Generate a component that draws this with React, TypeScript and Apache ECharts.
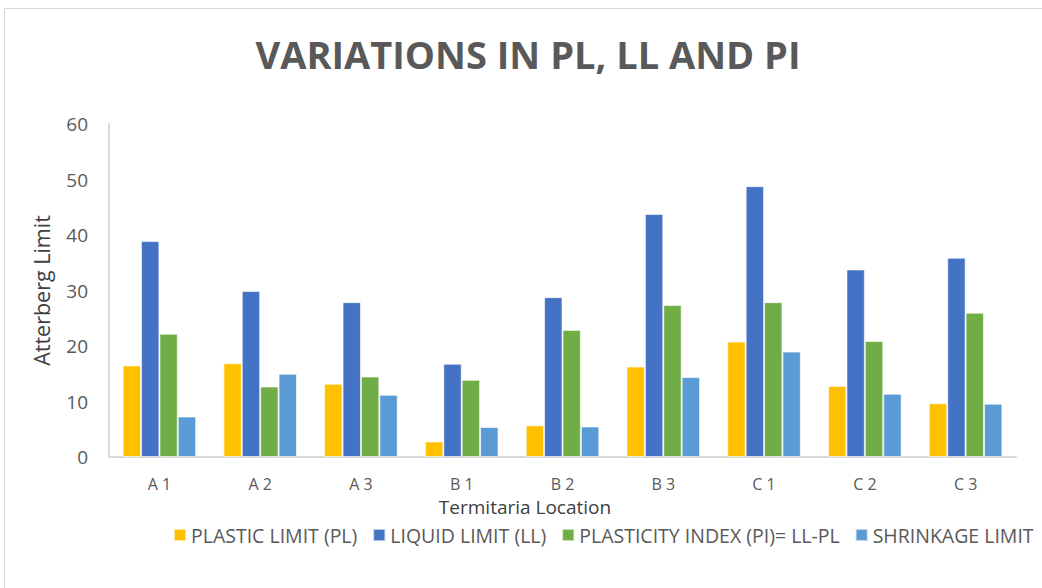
import React, { useEffect, useRef } from "react";
import * as echarts from "echarts";

const categories = ["A 1", "A 2", "A 3", "B 1", "B 2", "B 3", "C 1", "C 2", "C 3"];
const plasticLimit = [16.5, 16.9, 13.2, 2.8, 5.7, 16.3, 20.8, 12.8, 9.7];
const liquidLimit = [38.9, 29.9, 27.9, 16.8, 28.8, 43.8, 48.8, 33.8, 35.9];
const plasticityIndex = [22.2, 12.7, 14.5, 13.9, 22.9, 27.4, 27.9, 20.9, 26.0];
const shrinkageLimit = [7.3, 15.0, 11.2, 5.4, 5.5, 14.4, 19.0, 11.4, 9.6];
const seriesNames = [
  "PLASTIC LIMIT (PL)",
  "LIQUID LIMIT (LL)",
  "PLASTICITY INDEX (PI)= LL-PL",
  "SHRINKAGE LIMIT",
];
const colors = ["#FFC000", "#4472C4", "#70AD47", "#5B9BD5"];

const FONT = "'Open Sans', 'Noto Sans', sans-serif";
const TEXT = "#595959";

export default function App() {
  const ref = useRef<HTMLDivElement>(null);
  useEffect(() => {
    if (!ref.current) return;
    const chart = echarts.init(ref.current, undefined, { renderer: "svg" });
    const values = [plasticLimit, liquidLimit, plasticityIndex, shrinkageLimit];
    chart.setOption({
      animation: false,
      backgroundColor: "#ffffff",
      color: colors,
      textStyle: { fontFamily: FONT },
      graphic: [
        {
          type: "rect",
          shape: { x: 4.5, y: 8.5, width: 1400, height: 1000 },
          style: { fill: "none", stroke: "#d9d9d9", lineWidth: 1 },
          silent: true,
        },
        {
          type: "text",
          x: 528,
          y: 54,
          style: {
            text: "VARIATIONS IN PL, LL AND PI",
            fontFamily: FONT,
            fontWeight: "bold",
            fontSize: 38,
            fill: TEXT,
            align: "center",
            verticalAlign: "middle",
          },
        },
        {
          type: "text",
          x: 525,
          y: 507,
          style: {
            text: "Termitaria Location",
            fontFamily: FONT,
            fontSize: 19,
            fill: "#404040",
            align: "center",
            verticalAlign: "middle",
          },
        },
      ],
      legend: {
        left: 168,
        top: 520,
        itemWidth: 12,
        itemHeight: 12,
        itemGap: 15,
        icon: "rect",
        textStyle: { fontFamily: FONT, fontSize: 19.5, color: TEXT },
        data: seriesNames,
      },
      grid: { left: 109, right: 1300 - 1016, top: 124, bottom: 588 - 457, containLabel: false },
      xAxis: {
        type: "category",
        data: categories,
        axisLine: { lineStyle: { color: "#d9d9d9", width: 2 } },
        axisTick: { show: false },
        axisLabel: { color: TEXT, fontSize: 16, fontFamily: FONT, margin: 19 },
      },
      yAxis: {
        type: "value",
        min: 0,
        max: 60,
        interval: 10,
        name: "Atterberg Limit",
        nameLocation: "middle",
        nameGap: 57,
        nameTextStyle: { color: "#404040", fontSize: 21.5, fontFamily: FONT },
        axisLine: { show: true, lineStyle: { color: "#d9d9d9", width: 2 } },
        axisTick: { show: false },
        splitLine: { show: false },
        axisLabel: { color: TEXT, fontSize: 19, fontFamily: FONT, margin: 21 },
      },
      series: seriesNames.map((name, i) => ({
        name,
        type: "bar",
        data: values[i],
        barGap: "0%",
        barCategoryGap: "27%",
        itemStyle: { color: colors[i], borderColor: "rgba(255,255,255,0.6)", borderWidth: 1 },
      })),
    });
    return () => chart.dispose();
  }, []);
  return (
    <div style={{ position: "fixed", left: 0, top: 0, width: 1042, height: 588, overflow: "hidden", background: "#fff" }}>
      <div ref={ref} style={{ width: 1300, height: 588 }} />
    </div>
  );
}
